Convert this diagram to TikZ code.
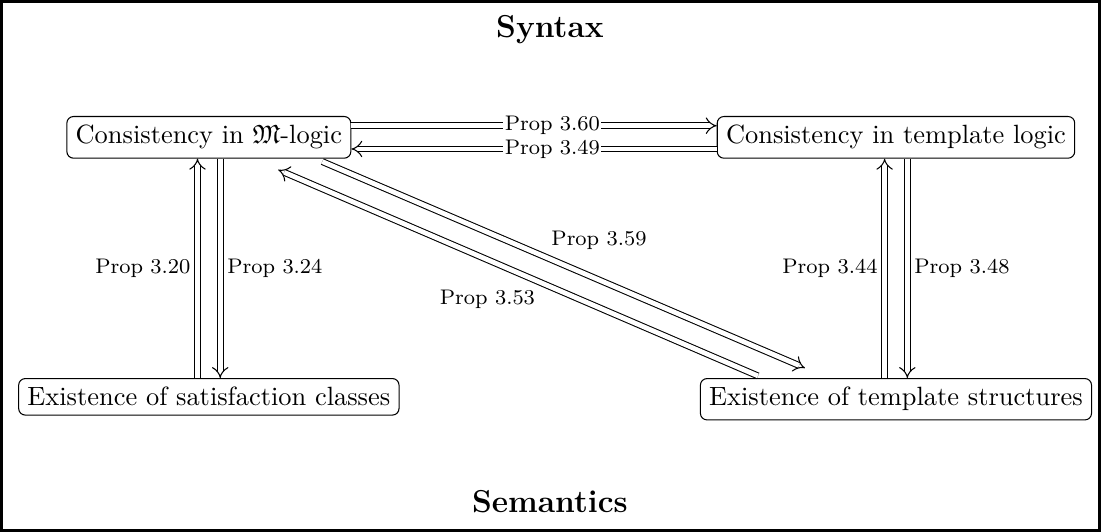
\documentclass[tikz,border=0pt]{standalone}
\usepackage{amsmath, amsfonts, amssymb}
\usetikzlibrary{arrows.meta}

\begin{document}
\begin{tikzpicture}[>=Implies,
    box/.style={draw, rounded corners=2.5pt, anchor=base},
    impl/.style={double, double distance=1.8pt, ->},
    lbl/.style={font=\footnotesize, inner sep=2.5pt, auto},
    desc/.style={font=\footnotesize, fill=white, inner sep=0.5pt}]
    \useasboundingbox (0, 0) rectangle (14.655, 7.081);
    \draw[line width=1pt] (0.5pt, 0.5pt) rectangle ([shift={(-0.5pt,-0.5pt)}]14.655, 7.081);

    \node[font=\large\bfseries, anchor=base] (syn) at (7.32, 6.585) {Syntax};
    \node[font=\large\bfseries, anchor=base] (sem) at (7.32, 0.255) {Semantics};

    \node[box] (mlog) at (2.78, 5.165) {Consistency in $\mathfrak{M}$-logic};
    \node[box] (tlog) at (11.926, 5.165) {Consistency in template logic};
    \node[box] (sat) at (2.78, 1.677) {Existence of satisfaction classes};
    \node[box] (tstr) at (11.926, 1.677) {Existence of template structures};

    % syntax to syntax
    \draw[impl] ([yshift=4.4pt]mlog.east) -- ([yshift=4.4pt]tlog.west)
        node[desc, pos=0.55] {Prop 3.60};
    \draw[impl] ([yshift=-4.4pt]tlog.west) -- ([yshift=-4.4pt]mlog.east)
        node[desc, pos=0.45] {Prop 3.49};

    % left column
    \draw[impl] ([xshift=-4.3pt]sat.north) -- ([xshift=-4.3pt]mlog.south)
        node[lbl, midway] {Prop 3.20};
    \draw[impl] ([xshift=4.3pt]mlog.south) -- ([xshift=4.3pt]sat.north)
        node[lbl, midway] {Prop 3.24};

    % right column
    \draw[impl] ([xshift=-4.3pt]tstr.north) -- ([xshift=-4.3pt]tlog.south)
        node[lbl, midway] {Prop 3.44};
    \draw[impl] ([xshift=4.3pt]tlog.south) -- ([xshift=4.3pt]tstr.north)
        node[lbl, midway] {Prop 3.48};

    % diagonals
    \draw[impl] ([xshift=-11pt, yshift=-1.1pt]mlog.south east) -- ([xshift=39.8pt, yshift=3.8pt]tstr.north west)
        node[lbl, pos=0.46] {Prop 3.59};
    \draw[impl] ([xshift=22pt, yshift=0.8pt]tstr.north west) -- ([xshift=-27.7pt, yshift=-4.2pt]mlog.south east)
        node[lbl, pos=0.45] {Prop 3.53};
\end{tikzpicture}
\end{document}
